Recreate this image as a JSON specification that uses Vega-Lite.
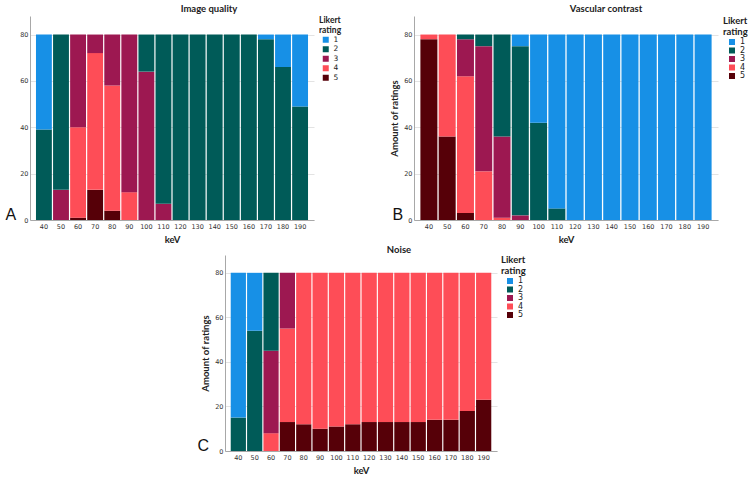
{
  "$schema": "https://vega.github.io/schema/vega-lite/v6.json",
  "padding": {"left": 5, "top": 3, "right": 0, "bottom": 0},
  "background": "white",
  "spacing": 0,
  "datasets": {
    "iq": [
      {"k":40,"r":2,"n":39},{"k":40,"r":1,"n":41},
      {"k":50,"r":3,"n":13},{"k":50,"r":2,"n":67},
      {"k":60,"r":5,"n":1},{"k":60,"r":4,"n":39},{"k":60,"r":3,"n":40},
      {"k":70,"r":5,"n":13},{"k":70,"r":4,"n":59},{"k":70,"r":3,"n":8},
      {"k":80,"r":5,"n":4},{"k":80,"r":4,"n":54},{"k":80,"r":3,"n":22},
      {"k":90,"r":4,"n":12},{"k":90,"r":3,"n":68},
      {"k":100,"r":3,"n":64},{"k":100,"r":2,"n":16},
      {"k":110,"r":3,"n":7},{"k":110,"r":2,"n":73},
      {"k":120,"r":2,"n":80},
      {"k":130,"r":2,"n":80},
      {"k":140,"r":2,"n":80},
      {"k":150,"r":2,"n":80},
      {"k":160,"r":2,"n":80},
      {"k":170,"r":2,"n":78},{"k":170,"r":1,"n":2},
      {"k":180,"r":2,"n":66},{"k":180,"r":1,"n":14},
      {"k":190,"r":2,"n":49},{"k":190,"r":1,"n":31}
    ],
    "vc": [
      {"k":40,"r":5,"n":78},{"k":40,"r":4,"n":2},
      {"k":50,"r":5,"n":36},{"k":50,"r":4,"n":44},
      {"k":60,"r":5,"n":3},{"k":60,"r":4,"n":59},{"k":60,"r":3,"n":16},{"k":60,"r":2,"n":2},
      {"k":70,"r":4,"n":21},{"k":70,"r":3,"n":54},{"k":70,"r":2,"n":5},
      {"k":80,"r":4,"n":1},{"k":80,"r":3,"n":35},{"k":80,"r":2,"n":44},
      {"k":90,"r":3,"n":2},{"k":90,"r":2,"n":73},{"k":90,"r":1,"n":5},
      {"k":100,"r":2,"n":42},{"k":100,"r":1,"n":38},
      {"k":110,"r":2,"n":5},{"k":110,"r":1,"n":75},
      {"k":120,"r":1,"n":80},
      {"k":130,"r":1,"n":80},
      {"k":140,"r":1,"n":80},
      {"k":150,"r":1,"n":80},
      {"k":160,"r":1,"n":80},
      {"k":170,"r":1,"n":80},
      {"k":180,"r":1,"n":80},
      {"k":190,"r":1,"n":80}
    ],
    "noise": [
      {"k":40,"r":2,"n":15},{"k":40,"r":1,"n":65},
      {"k":50,"r":2,"n":54},{"k":50,"r":1,"n":26},
      {"k":60,"r":4,"n":8},{"k":60,"r":3,"n":37},{"k":60,"r":2,"n":35},
      {"k":70,"r":5,"n":13},{"k":70,"r":4,"n":42},{"k":70,"r":3,"n":25},
      {"k":80,"r":5,"n":12},{"k":80,"r":4,"n":68},
      {"k":90,"r":5,"n":10},{"k":90,"r":4,"n":70},
      {"k":100,"r":5,"n":11},{"k":100,"r":4,"n":69},
      {"k":110,"r":5,"n":12},{"k":110,"r":4,"n":68},
      {"k":120,"r":5,"n":13},{"k":120,"r":4,"n":67},
      {"k":130,"r":5,"n":13},{"k":130,"r":4,"n":67},
      {"k":140,"r":5,"n":13},{"k":140,"r":4,"n":67},
      {"k":150,"r":5,"n":13},{"k":150,"r":4,"n":67},
      {"k":160,"r":5,"n":14},{"k":160,"r":4,"n":66},
      {"k":170,"r":5,"n":14},{"k":170,"r":4,"n":66},
      {"k":180,"r":5,"n":18},{"k":180,"r":4,"n":62},
      {"k":190,"r":5,"n":23},{"k":190,"r":4,"n":57}
    ]
  },
  "config": {
    "view": {"stroke": null},
    "font": "DejaVu Sans",
    "axis": {
      "domainColor": "#a8a8a8",
      "gridColor": "#e3e3e3",
      "ticks": false,
      "labelColor": "#333333",
      "labelFont": "DejaVu Sans",
      "labelFontSize": 6.5,
      "labelPadding": 3,
      "titleFont": "Lato",
      "titleFontWeight": "bold",
      "titleFontSize": 9.5,
      "titleColor": "#222222"
    },
    "axisX": {"grid": false, "labelAngle": 0, "titlePadding": 5},
    "axisY": {"grid": true, "labelPadding": 2, "titlePadding": 4},
    "legend": {
      "titleFont": "Lato",
      "titleFontWeight": "bold",
      "titleColor": "#222222",
      "labelFont": "DejaVu Sans",
      "labelColor": "#222222",
      "symbolType": "square",
      "symbolStrokeWidth": 0,
      "symbolOffset": 4,
      "rowPadding": 0.5,
      "titlePadding": 2,
      "titleLineHeight": 10.5
    },
    "title": {"font": "Lato", "fontWeight": "bold", "fontSize": 9.5, "color": "#222222", "offset": 3, "frame": "group"}
  },
  "resolve": {"legend": {"color": "independent"}, "scale": {"color": "independent"}},
  "vconcat": [
    {
      "spacing": 47,
      "resolve": {"legend": {"color": "independent"}, "scale": {"color": "independent"}},
      "hconcat": [
        {
          "width": 284, "height": 204,
          "title": {"text": "Image quality", "dx": 37},
          "layer": [
            {
              "data": {"name": "iq"},
              "mark": {"type": "bar"},
              "encoding": {
                "x": {"field": "k", "type": "ordinal", "title": "keV", "scale": {"paddingInner": 0.07, "paddingOuter": 0.35}},
                "y": {"field": "n", "type": "quantitative", "stack": "zero", "title": null, "scale": {"domain": [0, 88], "nice": false}, "axis": {"values": [0, 20, 40, 60, 80]}},
                "color": {"field": "r", "type": "nominal", "scale": {"domain": [1, 2, 3, 4, 5], "range": ["#1790e6", "#005b58", "#9d1851", "#fe4d57", "#560008"]},
                  "legend": {"title": ["Likert", "rating"], "titleFontSize": 8.5, "titleLineHeight": 9.5, "labelFontSize": 7.5, "symbolSize": 36, "offset": 5, "symbolOffset": 3}},
                "order": {"field": "r", "sort": "descending"}
              }
            },
            {
              "data": {"values": [{}]},
              "mark": {"type": "text", "font": "Liberation Sans", "fontSize": 16, "align": "center", "baseline": "alphabetic", "dx": -33, "color": "#111111"},
              "encoding": {
                "x": {"datum": 40, "type": "ordinal"},
                "y": {"datum": 0, "type": "quantitative"},
                "text": {"value": "A"}
              }
            }
          ]
        },
        {
          "width": 304, "height": 204,
          "title": {"text": "Vascular contrast", "dx": 40},
          "layer": [
            {
              "data": {"name": "vc"},
              "mark": {"type": "bar"},
              "encoding": {
                "x": {"field": "k", "type": "ordinal", "title": "keV", "scale": {"paddingInner": 0.07, "paddingOuter": 0.35}},
                "y": {"field": "n", "type": "quantitative", "stack": "zero", "title": "Amount of ratings", "scale": {"domain": [0, 88], "nice": false}, "axis": {"values": [0, 20, 40, 60, 80]}},
                "color": {"field": "r", "type": "nominal", "scale": {"domain": [1, 2, 3, 4, 5], "range": ["#1790e6", "#005b58", "#9d1851", "#fe4d57", "#560008"]},
                  "legend": {"title": ["Likert", "rating"], "titleFontSize": 9.5, "labelFontSize": 8, "symbolSize": 36, "offset": 5, "symbolOffset": 5}},
                "order": {"field": "r", "sort": "descending"}
              }
            },
            {
              "data": {"values": [{}]},
              "mark": {"type": "text", "font": "Liberation Sans", "fontSize": 16, "align": "center", "baseline": "alphabetic", "dx": -31, "color": "#111111"},
              "encoding": {
                "x": {"datum": 40, "type": "ordinal"},
                "y": {"datum": 0, "type": "quantitative"},
                "text": {"value": "B"}
              }
            }
          ]
        }
      ]
    },
    {
      "spacing": 10,
      "resolve": {"legend": {"color": "independent"}, "scale": {"color": "independent"}},
      "hconcat": [
        {
          "width": 157, "height": 10,
          "data": {"values": []},
          "mark": {"type": "point"},
          "encoding": {}
        },
        {
          "width": 272, "height": 196,
          "title": {"text": "Noise", "dx": 38, "offset": 1},
          "layer": [
            {
              "data": {"name": "noise"},
              "mark": {"type": "bar"},
              "encoding": {
                "x": {"field": "k", "type": "ordinal", "title": "keV", "scale": {"paddingInner": 0.07, "paddingOuter": 0.35}},
                "y": {"field": "n", "type": "quantitative", "stack": "zero", "title": "Amount of ratings", "scale": {"domain": [0, 88], "nice": false}, "axis": {"values": [0, 20, 40, 60, 80]}},
                "color": {"field": "r", "type": "nominal", "scale": {"domain": [1, 2, 3, 4, 5], "range": ["#1790e6", "#005b58", "#9d1851", "#fe4d57", "#560008"]},
                  "legend": {"title": ["Likert", "rating"], "titleFontSize": 9.5, "labelFontSize": 8, "symbolSize": 36, "offset": 4, "symbolOffset": 5}},
                "order": {"field": "r", "sort": "descending"}
              }
            },
            {
              "data": {"values": [{}]},
              "mark": {"type": "text", "font": "Liberation Sans", "fontSize": 16, "align": "center", "baseline": "alphabetic", "dx": -35, "color": "#111111"},
              "encoding": {
                "x": {"datum": 40, "type": "ordinal"},
                "y": {"datum": 0, "type": "quantitative"},
                "text": {"value": "C"}
              }
            }
          ]
        }
      ]
    }
  ]
}
